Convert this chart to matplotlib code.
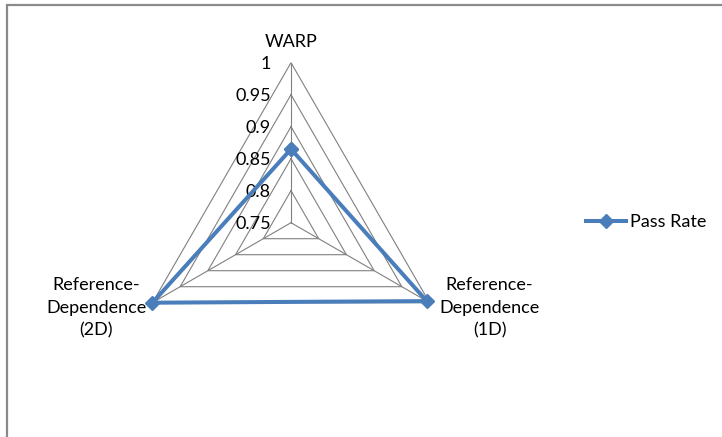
import numpy as np
import matplotlib
matplotlib.use("Agg")
import matplotlib.pyplot as plt
from matplotlib.patches import Rectangle
from matplotlib.lines import Line2D

plt.rcParams['font.family'] = ['Lato', 'DejaVu Sans']

categories = ["WARP", "Reference-\nDependence\n(1D)", "Reference-\nDependence\n(2D)"]
pass_rate = [0.865, 0.995, 1.0]
series_name = "Pass Rate"
r_levels = [0.75, 0.8, 0.85, 0.9, 0.95, 1.0]
r_labels = ["0.75", "0.8", "0.85", "0.9", "0.95", "1"]

W, H = 722, 437
fig = plt.figure(figsize=(W / 100, H / 100), dpi=100)

cx, cy, rad = 291, 222.7, 160
ax = fig.add_axes([(cx - rad) / W, (H - cy - rad) / H, 2 * rad / W, 2 * rad / H],
                  projection='polar')
ax.set_theta_zero_location('N')
ax.set_theta_direction(-1)
ax.set_ylim(r_levels[0], r_levels[-1])
ax.grid(False)
ax.set_xticks([])
ax.set_yticks([])
ax.spines['polar'].set_visible(False)
ax.patch.set_visible(False)

n = len(categories)
theta = np.arange(n) * 2 * np.pi / n
theta_closed = np.append(theta, theta[0])

grid_color = '#808080'
# polygonal grid rings
for lv in r_levels[1:]:
    ax.plot(theta_closed, [lv] * (n + 1), color=grid_color, lw=0.8, zorder=1)
# spokes
for t in theta:
    ax.plot([t, t], [r_levels[0], r_levels[-1]], color=grid_color, lw=0.8, zorder=1)

# radial value labels along the top spoke
for lv, lab in zip(r_levels, r_labels):
    ax.annotate(lab, xy=(0, lv), xytext=(-20, -1), textcoords='offset pixels',
                ha='right', va='center', fontsize=13, color='black')

# category labels
cat_offsets = [(0, 21), (60, -5), (-56, -5)]
for t, lab, off in zip(theta, categories, cat_offsets):
    ax.annotate(lab, xy=(t, r_levels[-1]), xytext=off, textcoords='offset pixels',
                ha='center', va='center', fontsize=13, color='black',
                multialignment='center', linespacing=1.5, annotation_clip=False)

blue = '#4A7EBB'
vals = np.append(pass_rate, pass_rate[0])
ax.plot(theta_closed, vals, color=blue, lw=2.9, marker='D', ms=7.5,
        zorder=3, clip_on=False, solid_joinstyle='miter')

handle = Line2D([], [], color=blue, lw=2.9, marker='D', ms=7.5)
fig.legend([handle], [series_name], loc='center left',
           bbox_to_anchor=(586 / W, 1 - 222 / H), frameon=False, fontsize=13,
           handlelength=2.2, handletextpad=0.25, borderpad=0, borderaxespad=0)

# chart area border (top and left edges visible)
fig.patches.append(Rectangle((6.5 / W, -0.1), 1.2, 1.1 - 5.5 / H,
                             transform=fig.transFigure, fill=False,
                             edgecolor='#8a8a8a', lw=1.6, zorder=0))

fig.savefig("out.png", dpi=100)
